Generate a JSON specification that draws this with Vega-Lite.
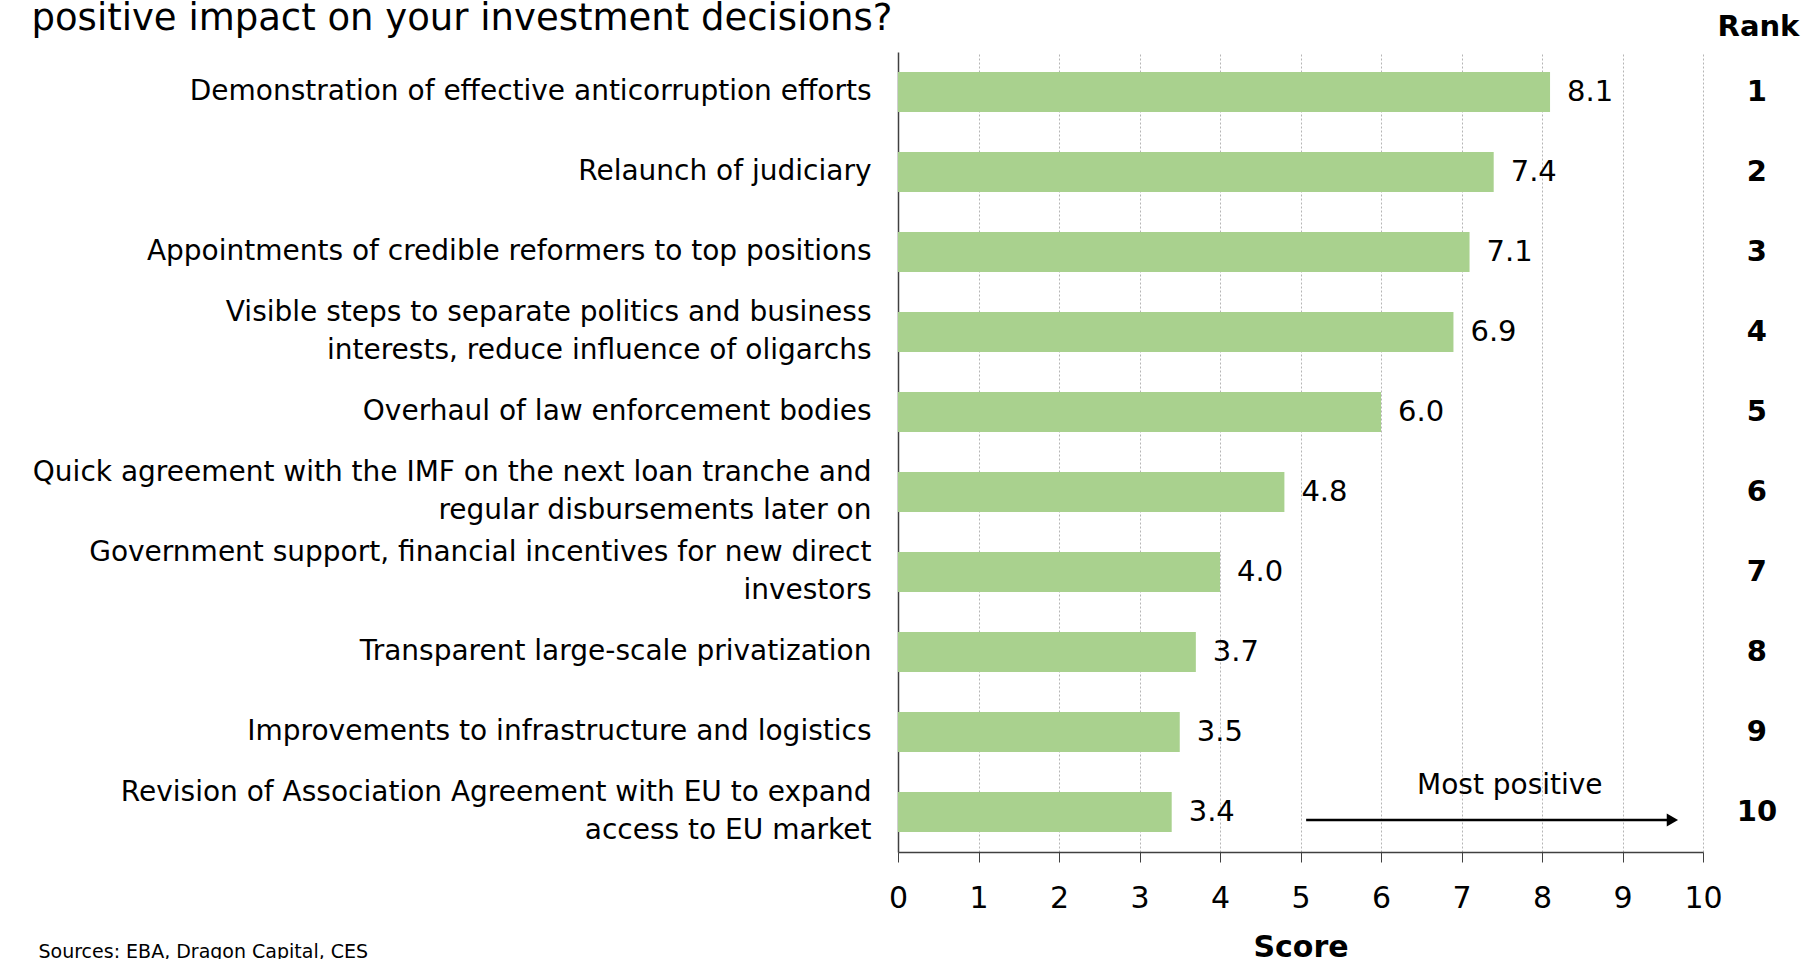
{
  "$schema": "https://vega.github.io/schema/vega-lite/v6.json",
  "width": 805,
  "height": 800,
  "autosize": {"type": "none"},
  "padding": {"left": 898, "top": 52, "right": 101, "bottom": 107},
  "background": "white",
  "config": {
    "font": "DejaVu Sans",
    "view": {"stroke": null},
    "axisX": {
      "grid": true,
      "gridDash": [2, 2],
      "gridColor": "#b5b5b5",
      "gridWidth": 1,
      "domainColor": "#404040",
      "domainWidth": 1.5,
      "tickColor": "#404040",
      "tickSize": 10,
      "labelFontSize": 30,
      "labelColor": "black",
      "labelPadding": 21,
      "labelFlush": false,
      "labelOverlap": false,
      "titleFontSize": 30,
      "titleFontWeight": "bold",
      "titleColor": "black",
      "titleY": 104,
      "titleBaseline": "alphabetic"
    }
  },
  "data": {
    "values": [
      {"rank": 1, "item": "Demonstration of effective anticorruption efforts", "score": 8.1},
      {"rank": 2, "item": "Relaunch of judiciary", "score": 7.4},
      {"rank": 3, "item": "Appointments of credible reformers to top positions", "score": 7.1},
      {"rank": 4, "item": "Visible steps to separate politics and business|interests, reduce influence of oligarchs", "score": 6.9},
      {"rank": 5, "item": "Overhaul of law enforcement bodies", "score": 6.0},
      {"rank": 6, "item": "Quick agreement with the IMF on the next loan tranche and|regular disbursements later on", "score": 4.8},
      {"rank": 7, "item": "Government support, financial incentives for new direct|investors", "score": 4.0},
      {"rank": 8, "item": "Transparent large-scale privatization", "score": 3.7},
      {"rank": 9, "item": "Improvements to infrastructure and logistics", "score": 3.5},
      {"rank": 10, "item": "Revision of Association Agreement with EU to expand|access to EU market", "score": 3.4}
    ]
  },
  "resolve": {"axis": {"y": "independent"}},
  "layer": [
    {
      "mark": {"type": "bar", "color": "#a9d18e"},
      "encoding": {
        "x": {
          "field": "score",
          "type": "quantitative",
          "scale": {"domain": [0, 10], "nice": false},
          "axis": {"values": [0, 1, 2, 3, 4, 5, 6, 7, 8, 9, 10], "format": "d", "title": "Score"}
        },
        "y": {
          "field": "item",
          "type": "nominal",
          "sort": {"field": "rank", "op": "min"},
          "scale": {"paddingInner": 0.5, "paddingOuter": 0.25},
          "axis": {
            "orient": "left",
            "labelExpr": "split(datum.value, '|')",
            "labelFontSize": 28,
            "labelColor": "black",
            "labelLineHeight": 38,
            "labelPadding": 27,
            "labelLimit": 1000,
            "labelOffset": {"condition": {"test": "indexof(datum.value, '|') >= 0", "value": -19}, "value": 0},
            "ticks": false,
            "grid": false,
            "domainColor": "#404040",
            "domainWidth": 1.5,
            "title": "Sources: EBA, Dragon Capital, CES",
            "titleAngle": 0,
            "titleX": -860,
            "titleY": 905,
            "titleAlign": "left",
            "titleBaseline": "alphabetic",
            "titleFontSize": 19,
            "titleFontWeight": "normal",
            "titleColor": "black"
          }
        }
      }
    },
    {
      "mark": {"type": "text", "align": "left", "baseline": "middle", "dx": 17, "fontSize": 29, "color": "black"},
      "encoding": {
        "x": {"field": "score", "type": "quantitative", "axis": {"values": [0, 1, 2, 3, 4, 5, 6, 7, 8, 9, 10], "format": "d", "title": "Score"}},
        "y": {"field": "item", "type": "nominal", "sort": {"field": "rank", "op": "min"}, "axis": null},
        "text": {"field": "score", "type": "quantitative", "format": ".1f"}
      }
    },
    {
      "mark": {"type": "text", "align": "center", "baseline": "middle", "fontSize": 29, "fontWeight": "bold", "color": "black"},
      "encoding": {
        "x": {"datum": 10.67, "type": "quantitative", "axis": {"values": [0, 1, 2, 3, 4, 5, 6, 7, 8, 9, 10], "format": "d", "title": "Score"}},
        "y": {
          "field": "item",
          "type": "nominal",
          "sort": {"field": "rank", "op": "min"},
          "axis": {
            "orient": "right",
            "labels": false,
            "ticks": false,
            "domain": false,
            "grid": false,
            "title": "Rank",
            "titleAngle": 0,
            "titleX": 55,
            "titleY": -17,
            "titleAlign": "center",
            "titleBaseline": "alphabetic",
            "titleFontSize": 29,
            "titleFontWeight": "bold",
            "titleColor": "black"
          }
        },
        "text": {"field": "rank", "type": "nominal"}
      }
    },
    {
      "transform": [{"filter": "datum.rank == 10"}],
      "mark": {"type": "rule", "color": "black", "strokeWidth": 2.5, "yOffset": 8},
      "encoding": {
        "x": {"datum": 5.07, "type": "quantitative", "axis": {"values": [0, 1, 2, 3, 4, 5, 6, 7, 8, 9, 10], "format": "d", "title": "Score"}},
        "x2": {"datum": 9.58},
        "y": {
          "field": "item",
          "type": "nominal",
          "sort": {"field": "rank", "op": "min"},
          "axis": {
            "orient": "left",
            "labels": false,
            "ticks": false,
            "domain": false,
            "grid": false,
            "title": "positive impact on your investment decisions?",
            "titleAngle": 0,
            "titleX": -867,
            "titleY": -23,
            "titleAlign": "left",
            "titleBaseline": "alphabetic",
            "titleFontSize": 37,
            "titleFontWeight": "normal",
            "titleColor": "black"
          }
        }
      }
    },
    {
      "transform": [{"filter": "datum.rank == 10"}],
      "mark": {"type": "point", "shape": "triangle-right", "filled": true, "color": "black", "opacity": 1, "size": 170, "yOffset": 8},
      "encoding": {
        "x": {"datum": 9.62, "type": "quantitative", "axis": {"values": [0, 1, 2, 3, 4, 5, 6, 7, 8, 9, 10], "format": "d", "title": "Score"}},
        "y": {"field": "item", "type": "nominal", "sort": {"field": "rank", "op": "min"}, "axis": null}
      }
    },
    {
      "transform": [{"filter": "datum.rank == 10"}],
      "mark": {"type": "text", "align": "center", "baseline": "middle", "dy": -26, "fontSize": 28, "color": "black", "text": "Most positive"},
      "encoding": {
        "x": {"datum": 7.6, "type": "quantitative", "axis": {"values": [0, 1, 2, 3, 4, 5, 6, 7, 8, 9, 10], "format": "d", "title": "Score"}},
        "y": {"field": "item", "type": "nominal", "sort": {"field": "rank", "op": "min"}, "axis": null}
      }
    }
  ]
}
